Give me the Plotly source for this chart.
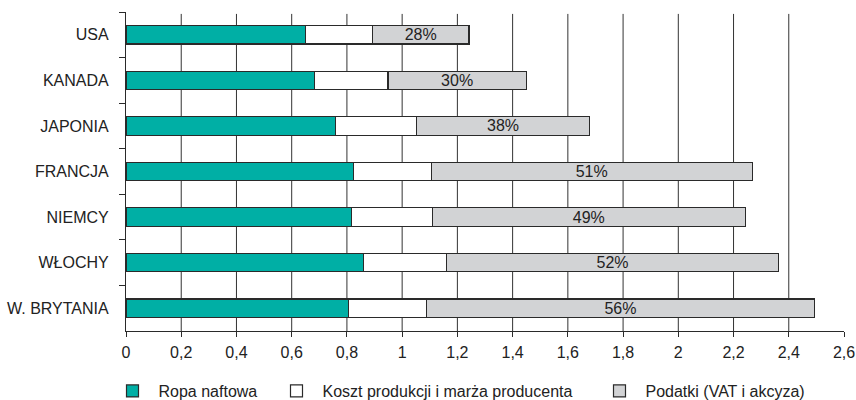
import plotly.graph_objects as go

countries = ["USA", "KANADA", "JAPONIA", "FRANCJA", "NIEMCY", "WŁOCHY", "W. BRYTANIA"]
ropa = [0.651, 0.683, 0.760, 0.823, 0.818, 0.859, 0.807]
koszt = [0.241, 0.266, 0.292, 0.282, 0.292, 0.303, 0.282]
podatki = [0.350, 0.500, 0.627, 1.163, 1.132, 1.200, 1.403]
podatki_pct = ["28%", "30%", "38%", "51%", "49%", "52%", "56%"]
x_ticks = [0, 0.2, 0.4, 0.6, 0.8, 1, 1.2, 1.4, 1.6, 1.8, 2, 2.2, 2.4, 2.6]
x_labels = ["0", "0,2", "0,4", "0,6", "0,8", "1", "1,2", "1,4", "1,6", "1,8", "2", "2,2", "2,4", "2,6"]
grid_vals = [0.2, 0.4, 0.6, 0.8, 1, 1.2, 1.4, 1.6, 1.8, 2, 2.2, 2.4]

FONT = "Liberation Sans, Arial, sans-serif"
OUT = "#2a2a2a"
FS = 16

fig = go.Figure()
fig.add_trace(go.Bar(y=countries, x=ropa, orientation="h", name="Ropa naftowa",
                     marker=dict(color="#00AFA5", line=dict(color=OUT, width=1.2)),
                     legend="legend"))
fig.add_trace(go.Bar(y=countries, x=koszt, orientation="h", name="Koszt produkcji i marża producenta",
                     marker=dict(color="#ffffff", line=dict(color=OUT, width=1.2)),
                     legend="legend2"))
fig.add_trace(go.Bar(y=countries, x=podatki, orientation="h", name="Podatki (VAT i akcyza)",
                     marker=dict(color="#D2D3D5", line=dict(color=OUT, width=1.2)),
                     text=podatki_pct, textposition="inside", insidetextanchor="middle",
                     textangle=0, constraintext="none",
                     textfont=dict(family=FONT, size=FS, color="#222222"),
                     legend="legend3"))

for v in grid_vals:
    fig.add_shape(type="line", xref="x", yref="paper", x0=v, x1=v, y0=0, y1=0.994,
                  line=dict(color="#333333", width=1), layer="below")

leg_common = dict(orientation="h", xref="container", yref="container",
                  yanchor="middle", y=(400 - 391) / 400, xanchor="left",
                  itemwidth=42,
                  font=dict(family=FONT, size=FS, color="#222222"),
                  bgcolor="rgba(0,0,0,0)", borderwidth=0)

fig.update_layout(
    width=856, height=400,
    margin=dict(l=126, r=12, t=12, b=69, autoexpand=False),
    barmode="stack", bargap=0.595,
    plot_bgcolor="white", paper_bgcolor="white",
    font=dict(family=FONT, size=FS, color="#222222"),
    showlegend=True,
    legend=dict(leg_common, x=(126.5 - 20) / 856),
    legend2=dict(leg_common, x=(290.5 - 20) / 856),
    legend3=dict(leg_common, x=(613.5 - 20) / 856),
    xaxis=dict(range=[0, 2.6], tickvals=x_ticks, ticktext=x_labels,
               automargin=False, showgrid=False,
               showline=True, linecolor=OUT, linewidth=1.2,
               ticks="outside", ticklen=5, tickcolor=OUT, tickwidth=1.2,
               ticklabeloverflow="allow", ticklabelstandoff=2,
               zeroline=False, tickfont=dict(family=FONT, size=FS, color="#222222")),
    yaxis=dict(autorange="reversed", automargin=False,
               showline=True, linecolor=OUT, linewidth=1.2,
               ticks="outside", tickson="boundaries", ticklen=6, tickcolor=OUT, tickwidth=1.2,
               showgrid=False, ticklabelstandoff=13,
               tickfont=dict(family=FONT, size=FS, color="#222222")),
)

fig.write_html("out.html")
